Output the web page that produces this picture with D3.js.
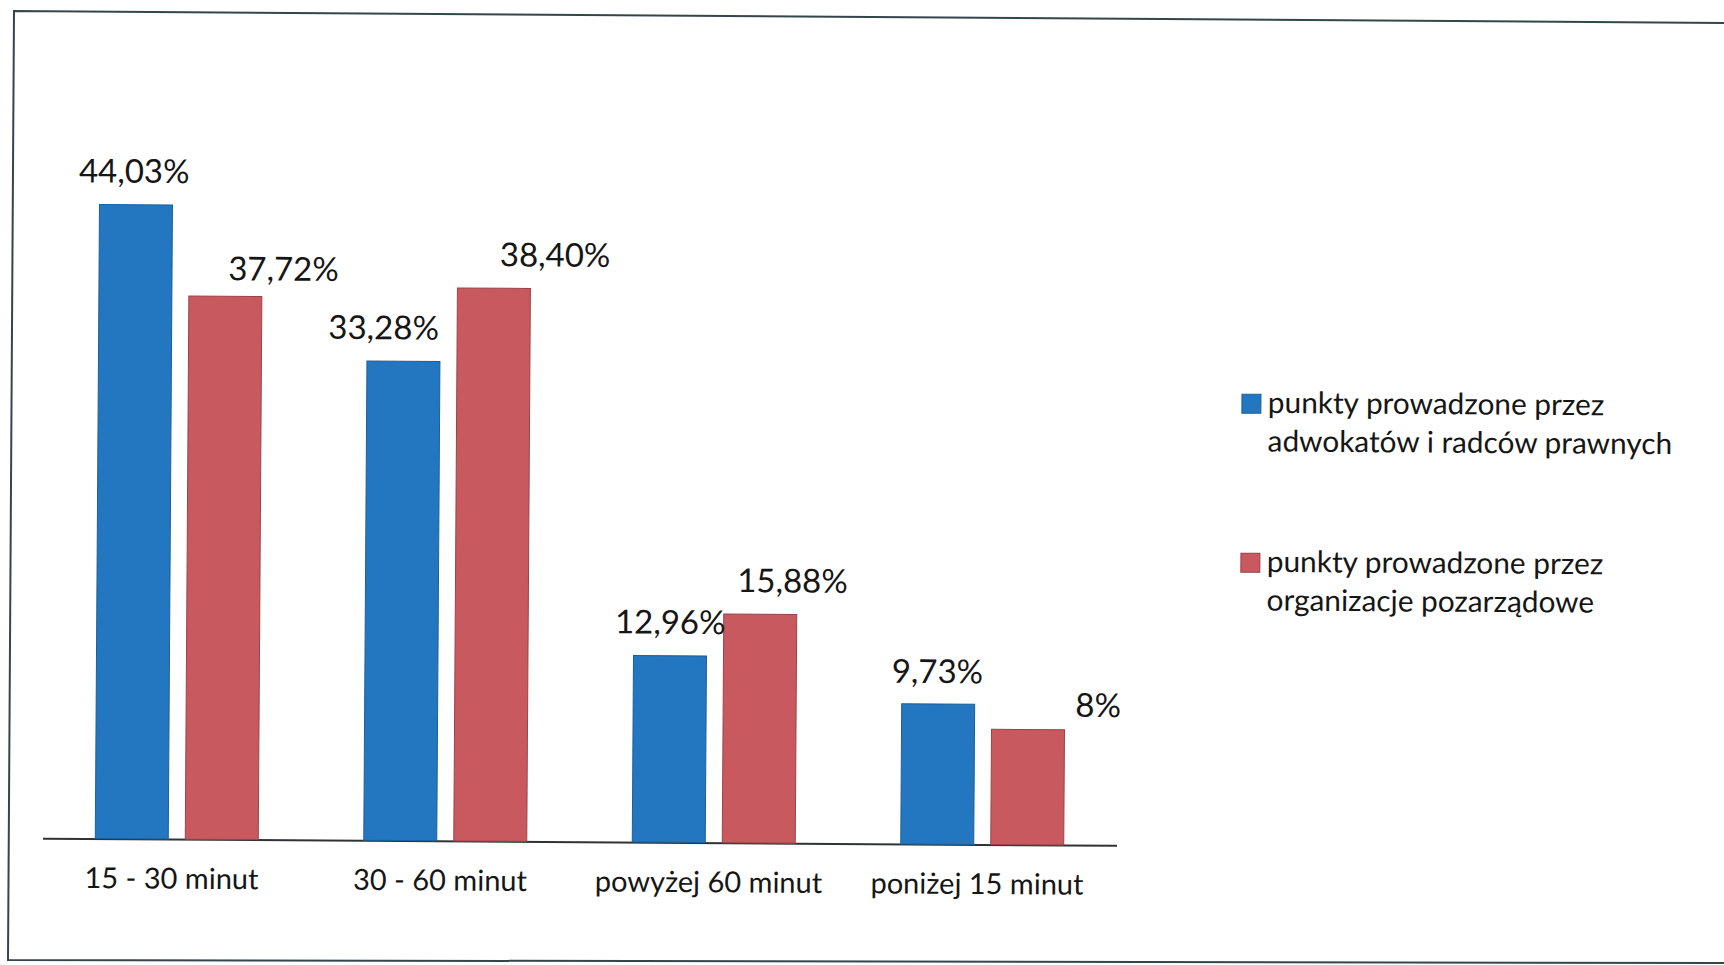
<!DOCTYPE html>
<html>
<head>
<meta charset="utf-8">
<script src="https://cdn.jsdelivr.net/npm/d3@7"></script>
<style>
  html, body { margin: 0; padding: 0; background: #ffffff; }
  svg { display: block; }
  text { font-family: Lato, "Open Sans", sans-serif; fill: #161616; }
</style>
</head>
<body>
<svg id="chart" width="1724" height="965"></svg>
<script>
// ---- data ----
const categories = ["15 - 30 minut", "30 - 60 minut", "powyżej 60 minut", "poniżej 15 minut"];
const seriesKeys = ["adwokaci", "organizacje"];
const lawyersValues = [44.03, 33.28, 12.96, 9.73];
const ngoValues = [37.72, 38.40, 15.88, 8];
const lawyersLabels = ["44,03%", "33,28%", "12,96%", "9,73%"];
const ngoLabels = ["37,72%", "38,40%", "15,88%", "8%"];
const legendLawyers = ["punkty prowadzone przez", "adwokatów i radców prawnych"];
const legendNgo = ["punkty prowadzone przez", "organizacje pozarządowe"];

// label nudges (dx from bar centre, gap above bar top), per series
const lawyersNudge = [[-2, 22], [-20, 22], [0, 22], [-1, 21]];
const ngoNudge = [[58, 16], [61, 22], [32, 22], [70, 13]];

const colors = { adwokaci: "#2277c0", organizacje: "#c8595e" };
const strokes = { adwokaci: "#1d5f98", organizacje: "#9a4347" };

const svg = d3.select("#chart");

// scanned page frame
svg.append("path")
  .attr("d", "M1724,23 L14,11 L8,960 L1724,963")
  .attr("fill", "none")
  .attr("stroke", "#34454b")
  .attr("stroke-width", 2);

const g = svg.append("g").attr("transform", "rotate(0.38 14 11)");

const baseY = 838;
const x0 = d3.scaleBand().domain(categories).range([48, 1122])
  .paddingInner(0.393).paddingOuter(0.1965);
const x1 = d3.scaleBand().domain(seriesKeys).range([0, x0.bandwidth()])
  .paddingInner(0.189);
const y = d3.scaleLinear().domain([0, 50]).range([baseY, 118]);

// axis
const axis = d3.axisBottom(x0).tickSize(0).tickSizeOuter(0).tickPadding(29);
const ax = g.append("g").attr("transform", `translate(0,${baseY})`).call(axis);
ax.select(".domain").attr("stroke", "#2f3336").attr("stroke-width", 2);
ax.selectAll(".tick text")
  .attr("font-size", 29)
  .attr("dx", -5)
  .attr("font-family", "Lato, 'Open Sans', sans-serif")
  .attr("fill", "#161616");

const rows = categories.map((c, i) => ({
  cat: c,
  items: [
    { key: "adwokaci", v: lawyersValues[i], label: lawyersLabels[i], nudge: lawyersNudge[i] },
    { key: "organizacje", v: ngoValues[i], label: ngoLabels[i], nudge: ngoNudge[i] }
  ]
}));

const groups = g.selectAll(".grp").data(rows).enter().append("g")
  .attr("class", "grp")
  .attr("transform", d => `translate(${x0(d.cat)},0)`);

groups.selectAll("rect").data(d => d.items).enter().append("rect")
  .attr("x", d => x1(d.key))
  .attr("width", x1.bandwidth())
  .attr("y", d => y(d.v))
  .attr("height", d => baseY - y(d.v))
  .attr("fill", d => colors[d.key])
  .attr("stroke", d => strokes[d.key])
  .attr("stroke-width", 1);

groups.selectAll("text.val").data(d => d.items).enter().append("text")
  .attr("class", "val")
  .attr("x", d => x1(d.key) + x1.bandwidth() / 2 + d.nudge[0])
  .attr("y", d => y(d.v) - d.nudge[1])
  .attr("text-anchor", "middle")
  .attr("font-size", 33)
  .text(d => d.label);

// legend
const legend = [
  { key: "adwokaci", lines: legendLawyers, sy: 386, ty: 404.7 },
  { key: "organizacje", lines: legendNgo, sy: 545, ty: 563.7 }
];
const lg = g.append("g");
legend.forEach(item => {
  lg.append("rect")
    .attr("x", 1244.5).attr("y", item.sy)
    .attr("width", 19).attr("height", 19)
    .attr("fill", colors[item.key])
    .attr("stroke", strokes[item.key]).attr("stroke-width", 1);
  item.lines.forEach((ln, j) => {
    lg.append("text")
      .attr("x", 1270.5)
      .attr("y", item.ty + j * 38.5)
      .attr("font-size", 29.8)
      .text(ln);
  });
});
</script>
</body>
</html>
